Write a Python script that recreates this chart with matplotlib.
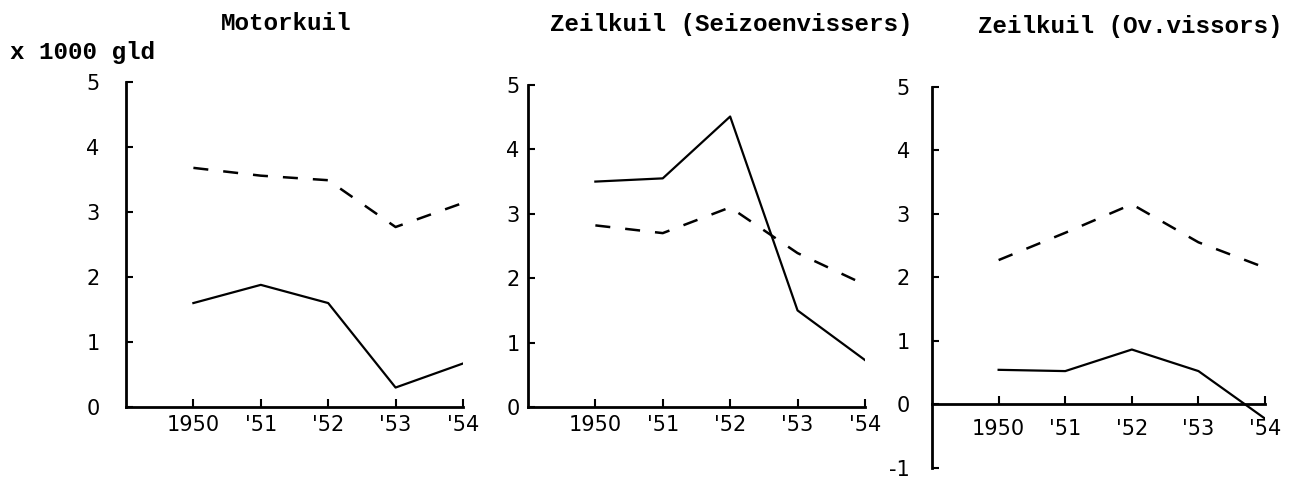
import matplotlib.pyplot as plt
import numpy as np

plt.rcParams['axes.unicode_minus'] = False

years = [1950, 1951, 1952, 1953, 1954]
year_labels = ['1950', "'51", "'52", "'53", "'54"]

titles = ['Motorkuil', 'Zeilkuil (Seizoenvissers)', 'Zeilkuil (Ov.vissors)']

# solid line and dashed line per panel (x 1000 gld)
solid_motor = [1.6, 1.88, 1.6, 0.3, 0.67]
dashed_motor = [3.68, 3.56, 3.49, 2.77, 3.14]
solid_seizoen = [3.5, 3.55, 4.51, 1.5, 0.73]
dashed_seizoen = [2.82, 2.7, 3.1, 2.39, 1.9]
solid_ov = [0.54, 0.52, 0.86, 0.52, -0.23]
dashed_ov = [2.27, 2.7, 3.15, 2.55, 2.15]

solid = [solid_motor, solid_seizoen, solid_ov]
dashed = [dashed_motor, dashed_seizoen, dashed_ov]
ylims = [(0, 5), (0, 5), (-1, 5)]
yticks = [[0, 1, 2, 3, 4, 5], [0, 1, 2, 3, 4, 5], [-1, 0, 1, 2, 3, 4, 5]]
ypads = [19, 6, 16]
xpads = [6, 6, 11]

mono = 'Liberation Mono'

fig = plt.figure(figsize=(12.95, 4.8), dpi=100)
# axes boxes in figure fractions
boxes = [[0.0973, 0.152, 0.2602, 0.677],
         [0.4077, 0.152, 0.2602, 0.671],
         [0.7197, 0.026, 0.2572, 0.793]]

for i in range(3):
    ax = fig.add_axes(boxes[i])
    ax.plot(years, solid[i], color='black', lw=1.6)
    ax.plot(years, dashed[i], color='black', lw=1.8, dashes=(6, 6))
    ax.set_xlim(1949, 1954)
    ax.set_ylim(*ylims[i])
    ax.spines['top'].set_visible(False)
    ax.spines['right'].set_visible(False)
    ax.spines['left'].set_linewidth(2)
    ax.spines['bottom'].set_linewidth(2)
    if i == 2:
        ax.spines['bottom'].set_position(('data', 0))
    ax.set_xticks(years)
    ax.set_xticklabels(year_labels)
    ax.set_yticks(yticks[i])
    ax.tick_params(axis='y', direction='in', length=5, width=1.5, pad=ypads[i], labelsize=15)
    ax.tick_params(axis='x', direction='in', length=6, width=1.5, pad=xpads[i], labelsize=15)
    ax.patch.set_visible(False)

fig.text(0.221, 0.95, titles[0], family=mono, weight='bold', fontsize=17.5, ha='center', va='center')
fig.text(0.565, 0.95, titles[1], family=mono, weight='bold', fontsize=17.5, ha='center', va='center')
fig.text(0.873, 0.945, titles[2], family=mono, weight='bold', fontsize=17.5, ha='center', va='center')
fig.text(0.008, 0.89, 'x 1000 gld', family=mono, weight='bold', fontsize=17.5, ha='left', va='center')

fig.savefig('out.png', dpi=100)
